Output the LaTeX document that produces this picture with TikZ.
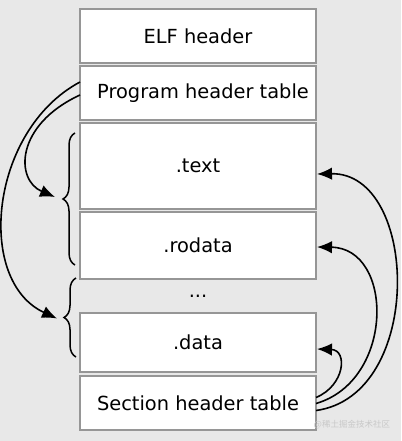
\documentclass[tikz,border=0pt]{standalone}
\usepackage{fontspec}
\setmainfont{DejaVu Sans}
\newfontfamily\cjk{Noto Sans CJK SC}
\usetikzlibrary{arrows.meta,positioning,calc,decorations.pathreplacing}
\definecolor{pagebg}{RGB}{232,232,232}
\definecolor{segline}{RGB}{150,150,150}
\definecolor{markgray}{RGB}{200,200,200}

\begin{document}
\begin{tikzpicture}[
    x=1pt, y=1pt,
    font=\fontsize{19.4}{23}\selectfont,
    node distance=3pt,
    seg/.style={rectangle, draw=segline, fill=white, line width=1.2pt,
      minimum width=236pt, inner sep=0pt, outer sep=0pt},
    curly/.style={decorate, decoration={brace, amplitude=12pt}, line width=1.5pt},
    link/.style={-{Latex[length=15pt,width=12.5pt]}, line width=1.6pt}
  ]
  \fill[pagebg, use as bounding box] (0,0) rectangle (401,-441);
  % sections of the file, top to bottom
  \node[seg, minimum height=54pt, anchor=north west] (elf) at (80,-9) {ELF header};
  \node[seg, minimum height=54pt, below=of elf] (pht) {\hspace*{10pt}Program header table};
  \node[seg, minimum height=86pt, below=of pht] (text) {.text};
  \node[seg, minimum height=67pt, below=of text] (rodata) {.rodata};
  \node[minimum height=34pt, inner sep=0pt, outer sep=0pt, below=0pt of rodata] (dots) {...};
  \node[seg, minimum height=59pt, below=0pt of dots] (data) {.data};
  \node[seg, minimum height=54pt, below=4pt of data] (sht) {Section header table};
  % segments
  \draw[curly] ($(rodata.south west)+(-5,14)$) -- ($(text.north west)+(-5,-10)$);
  \draw[curly] ($(data.south west)+(-4,15)$) -- ($(rodata.south west)+(-4,1)$);
  \coordinate (segA) at ($(text.north west)+(-25,-74)$);
  \coordinate (segB) at ($(data.west)+(-23,24)$);
  \draw[link] ($(pht.west)+(0,-2)$) .. controls +(-65,-30) and +(-40,17) .. (segA);
  \draw[link] ($(pht.west)+(0,11)$) .. controls +(-90,-48) and +(-82,38) .. (segB);
  % section headers
  \draw[link] ($(sht.east)+(0,-7.5)$) .. controls +(109,15) and +(102,2) .. ($(text.east)+(1,-8)$);
  \draw[link] ($(sht.east)+(0,-0.5)$) .. controls +(79,23) and +(77,-1) .. ($(rodata.east)+(1,-1.5)$);
  \draw[link] ($(sht.east)+(0,5.5)$) .. controls +(29,12) and +(31,-1) .. ($(data.east)+(1,-6.5)$);
  \node[text=markgray, font=\cjk\fontsize{8.5}{10}\selectfont] (mark) at (352,-425) {@稀土掘金技术社区};
\end{tikzpicture}
\end{document}
